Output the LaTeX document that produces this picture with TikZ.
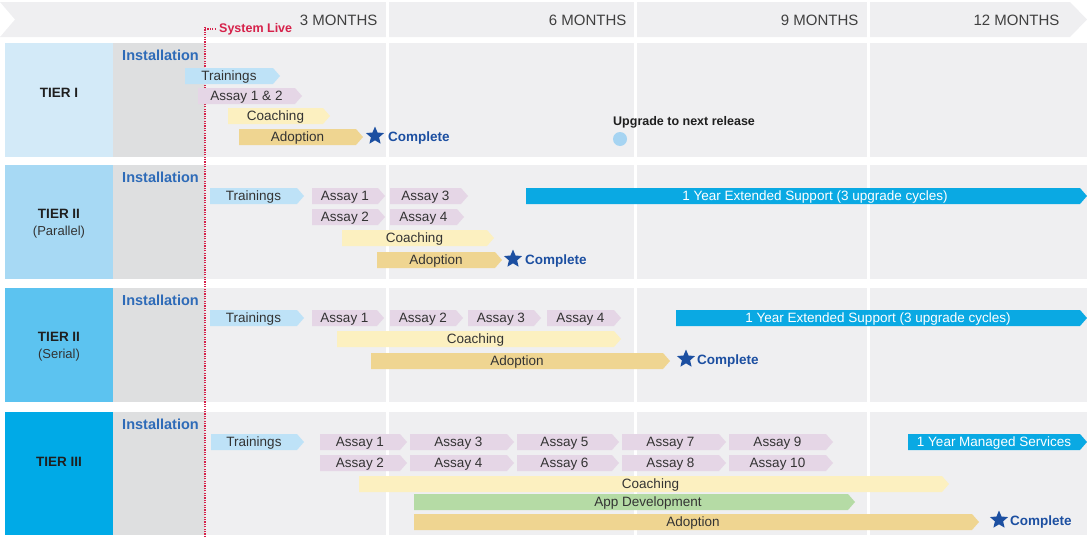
\documentclass[tikz,border=0pt]{standalone}
\usepackage{fontspec}
\setmainfont{Liberation Sans}
\usetikzlibrary{shapes.geometric}
\definecolor{bgray}{rgb}{0.937,0.937,0.945}
\definecolor{igray}{rgb}{0.871,0.875,0.878}
\definecolor{tierone}{rgb}{0.827,0.918,0.973}
\definecolor{tiertwo}{rgb}{0.655,0.851,0.957}
\definecolor{tierser}{rgb}{0.361,0.765,0.941}
\definecolor{tierthree}{rgb}{0,0.667,0.906}
\definecolor{trainc}{rgb}{0.745,0.886,0.969}
\definecolor{assayc}{rgb}{0.898,0.839,0.902}
\definecolor{coachc}{rgb}{0.988,0.941,0.753}
\definecolor{adoptc}{rgb}{0.937,0.835,0.569}
\definecolor{appc}{rgb}{0.71,0.859,0.647}
\definecolor{extc}{rgb}{0.039,0.663,0.89}
\definecolor{instc}{rgb}{0.18,0.42,0.72}
\definecolor{livec}{rgb}{0.84,0.13,0.29}
\definecolor{starc}{rgb}{0.11,0.31,0.63}
\definecolor{upgc}{rgb}{0.65,0.83,0.95}
% shift, name, colour, start, end, row, text
\newcommand{\gbar}[7][0]{%
	\fill [color=#3] (#4,#6-8) -- (#5-7,#6-8) -- (#5,#6) -- (#5-7,#6+8) -- (#4,#6+8) -- cycle;
	\draw ({(#4+#5-7)/2+#1},#6) node[bartext] (#2) {#7};}

\begin{document}
\begin{tikzpicture}[line cap=round,line join=round,x=1pt,y=-1pt,
		bartext/.style={font=\fontsize{13.5}{15}\selectfont,text=black!80,inner sep=0pt,text height=9.5pt,text depth=0pt},
		tiertext/.style={font=\bfseries\fontsize{13.5}{16}\selectfont,text=black!88},
		subtext/.style={font=\fontsize{13}{15}\selectfont,text=black!80},
		insttext/.style={font=\bfseries\fontsize{14.5}{16}\selectfont,text=instc},
		monthtext/.style={font=\fontsize{15}{17}\selectfont,text=black!75,anchor=east},
		donetext/.style={font=\bfseries\fontsize{13.5}{15}\selectfont,text=starc,anchor=west,inner sep=0pt,text height=9.5pt,text depth=0pt},
		donestar/.style={star,star points=5,star point ratio=2.2,fill=starc,inner sep=0pt,minimum size=19pt}]
	\useasboundingbox (0,0) rectangle (1087,538);
	
	% time line
	\fill [color=bgray] (0,2) -- (1070,2) -- (1087,19.5) -- (1070,37) -- (0,37) -- (15,19.5) -- cycle;
	\foreach \t/\b/\c in {43/157/tierone,165/279/tiertwo,288/402/tierser,412/535/tierthree}{
		\fill [color=\c] (5,\t) rectangle (113,\b);
		\fill [color=igray] (113,\t) rectangle (205,\b);
		\fill [color=bgray] (205,\t) rectangle (1087,\b);
	}
	\foreach \x in {387,635,868}
		\draw [color=white,line width=3pt,line cap=butt] (\x,0) -- (\x,538);
	\draw (381,20) node[monthtext] (m3) {3 MONTHS};
	\draw (630,20) node[monthtext] (m6) {6 MONTHS};
	\draw (862,20) node[monthtext] (m9) {9 MONTHS};
	\draw (1063,20) node[monthtext] (m12) {12 MONTHS};
	
	% go live
	\draw [color=livec,line cap=butt,dash pattern=on 1.2pt off 1.2pt,line width=1.2pt] (205,27) -- (205,538);
	\draw [color=livec,line cap=butt,dash pattern=on 1.2pt off 1.2pt,line width=1.2pt] (205,29) -- (215,29);
	\draw (219,29) node[anchor=west,inner sep=0pt,font=\bfseries\fontsize{12.5}{14}\selectfont,text=livec] (live) {System Live};
	
	% tier labels
	\draw (59,93) node[tiertext] (t1) {TIER I};
	\draw (59,214) node[tiertext] (t2) {TIER II};
	\draw (59,232) node[subtext] (t2sub) {(Parallel)};
	\draw (59,337) node[tiertext] (t3) {TIER II};
	\draw (59,355) node[subtext] (t3sub) {(Serial)};
	\draw (59,462) node[tiertext] (t4) {TIER III};
	\foreach \y/\n in {55/1,177/2,300/3,424/4}
		\draw (160.5,\y) node[insttext] (inst\n) {Installation};
	
	% tier I
	\gbar{t1train}{trainc}{185}{280}{76}{Trainings}
	\gbar{t1assay}{assayc}{198}{302}{96}{Assay 1 \& 2}
	\gbar{t1coach}{coachc}{228}{330}{116}{Coaching}
	\gbar{t1adopt}{adoptc}{239}{363}{137}{Adoption}
	\node[donestar] (t1star) at (375,136) {};
	\draw (388,137) node[donetext] (t1done) {Complete};
	\fill [color=upgc] (620,139) circle (7);
	\draw (613,122) node[anchor=west,inner sep=0pt,font=\bfseries\fontsize{12.5}{14}\selectfont,text=black!88] (upg) {Upgrade to next release};
	
	% tier II parallel
	\gbar{t2train}{trainc}{210}{304}{196}{Trainings}
	\gbar{t2a1}{assayc}{312}{385}{196}{Assay 1}
	\gbar{t2a3}{assayc}{390}{468}{196}{Assay 3}
	\gbar{t2a2}{assayc}{312}{385}{217}{Assay 2}
	\gbar{t2a4}{assayc}{390}{464}{217}{Assay 4}
	\gbar{t2coach}{coachc}{342}{494}{238}{Coaching}
	\gbar{t2adopt}{adoptc}{377}{502}{260}{Adoption}
	\gbar[12]{t2ext}{extc}{526}{1087}{196}{\color{white}1 Year Extended Support (3 upgrade cycles)}
	\node[donestar] (t2star) at (513,259) {};
	\draw (525,260) node[donetext] (t2done) {Complete};
	
	% tier II serial
	\gbar{t3train}{trainc}{210}{304}{318}{Trainings}
	\gbar{t3a1}{assayc}{312}{384}{318}{Assay 1}
	\gbar{t3a2}{assayc}{390}{463}{318}{Assay 2}
	\gbar{t3a3}{assayc}{468}{541}{318}{Assay 3}
	\gbar{t3a4}{assayc}{547}{621}{318}{Assay 4}
	\gbar{t3coach}{coachc}{337}{621}{339}{Coaching}
	\gbar{t3adopt}{adoptc}{371}{670}{361}{Adoption}
	\gbar{t3ext}{extc}{676}{1087}{318}{\color{white}1 Year Extended Support (3 upgrade cycles)}
	\node[donestar] (t3star) at (686,359) {};
	\draw (697,360) node[donetext] (t3done) {Complete};
	
	% tier III
	\gbar{t4train}{trainc}{211}{304}{442}{Trainings}
	\foreach \s/\e/\a/\b in {320/407/1/2,410/514/3/4,517/619/5/6,622/726/7/8,729/833/9/10}{
		\gbar{t4a\a}{assayc}{\s}{\e}{442}{Assay \a}
		\gbar{t4a\b}{assayc}{\s}{\e}{463}{Assay \b}
	}
	\gbar{t4coach}{coachc}{359}{949}{484}{Coaching}
	\gbar[17]{t4app}{appc}{414}{855}{502}{App Development}
	\gbar{t4adopt}{adoptc}{414}{979}{522}{Adoption}
	\gbar{t4ms}{extc}{908}{1087}{442}{\color{white}1 Year Managed Services}
	\node[donestar] (t4star) at (999,520) {};
	\draw (1010,521) node[donetext] (t4done) {Complete};
\end{tikzpicture}
\end{document}
